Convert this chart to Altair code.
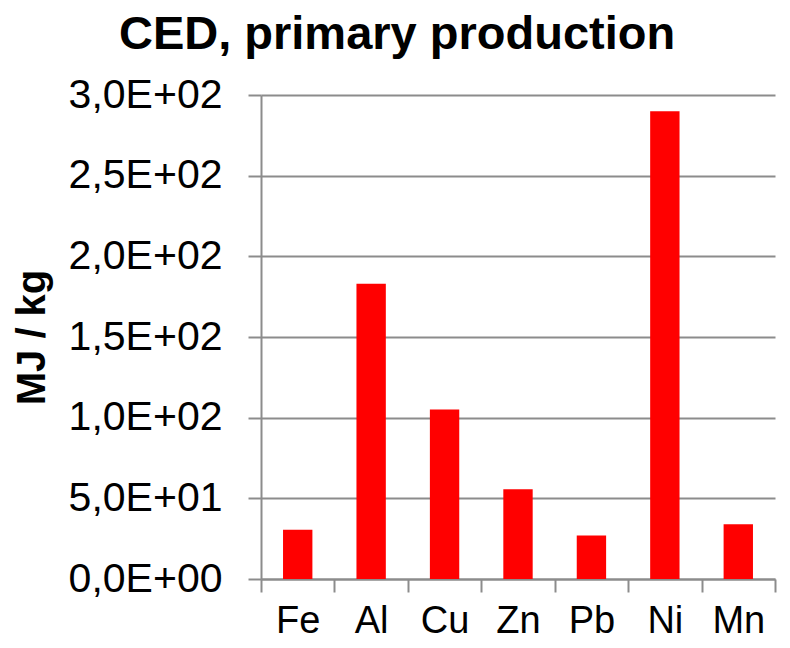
import altair as alt
import pandas as pd

metals = ["Fe", "Al", "Cu", "Zn", "Pb", "Ni", "Mn"]
ced = [30.6, 183, 105, 55.6, 26.9, 290, 33.9]
y_ticks = [0, 50, 100, 150, 200, 250, 300]
y_tick_labels = ["0,0E+00", "5,0E+01", "1,0E+02", "1,5E+02", "2,0E+02", "2,5E+02", "3,0E+02"]

df = pd.DataFrame({"metal": metals, "ced": ced})
label_expr = "[" + ",".join(f"'{s}'" for s in y_tick_labels) + "][round(datum.value / 50)]"

FONT = "Liberation Sans"
GRID = "#8c8c8c"

chart = alt.Chart(df).mark_bar(color="#ff0000", width=alt.RelativeBandSize(0.4)).encode(
    x=alt.X(
        "metal:N", sort=metals, title=None,
        scale=alt.Scale(paddingInner=0, paddingOuter=0, range=[0, 514]),
        axis=alt.Axis(labelAngle=0, labelFont=FONT, labelFontSize=38, labelColor="black",
                      tickBand="extent", tickSize=13, tickColor=GRID, tickWidth=2,
                      domainColor=GRID, domainWidth=2, labelPadding=10, grid=False),
    ),
    y=alt.Y(
        "ced:Q", title="MJ / kg",
        scale=alt.Scale(domain=[0, 300], nice=False),
        axis=alt.Axis(values=y_ticks, labelExpr=label_expr, labelFont=FONT, labelFontSize=41,
                      labelColor="black", tickSize=13, tickColor=GRID, tickWidth=2,
                      domainColor=GRID, domainWidth=2, gridColor=GRID, gridWidth=2,
                      labelPadding=26, titleFont=FONT, titleFontSize=40, titleFontWeight="bold",
                      titleColor="black", titlePadding=16),
    ),
).properties(
    width=521, height=484,
    title=alt.Title("CED, primary production", font=FONT, fontSize=47, fontWeight="bold",
                    color="black", anchor="middle", frame="bounds", offset=15),
    autosize=alt.AutoSizeParams(type="none"),
    padding={"left": 253, "top": 87, "right": 0, "bottom": 61},
).configure_view(stroke=None)

chart.save("out.html", embed_options={"renderer": "svg", "actions": False})
